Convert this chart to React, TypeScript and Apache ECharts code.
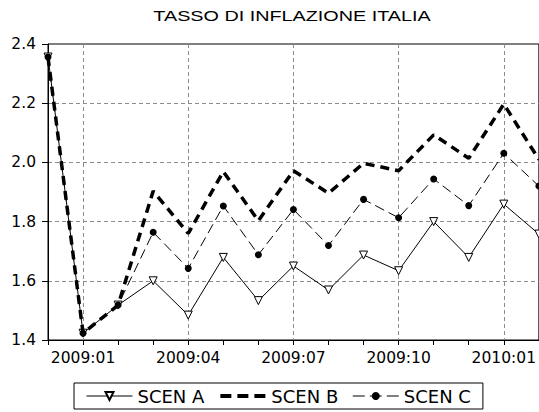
import React, { useEffect, useRef } from "react";
import * as echarts from "echarts";

const months = [
  "2008:12", "2009:01", "2009:02", "2009:03", "2009:04", "2009:05", "2009:06",
  "2009:07", "2009:08", "2009:09", "2009:10", "2009:11", "2009:12", "2010:01", "2010:02",
];
const scenA = [2.356, 1.423, 1.518, 1.600, 1.484, 1.679, 1.533, 1.650, 1.569, 1.687, 1.634, 1.800, 1.679, 1.859, 1.758];
const scenB = [2.356, 1.423, 1.518, 1.903, 1.760, 1.969, 1.803, 1.972, 1.896, 1.997, 1.972, 2.093, 2.014, 2.197, 2.010];
const scenC = [2.356, 1.423, 1.518, 1.764, 1.642, 1.853, 1.688, 1.841, 1.719, 1.875, 1.813, 1.944, 1.854, 2.031, 1.920];
const seriesNames = ["SCEN A", "SCEN B", "SCEN C"];
const titleText = "TASSO DI INFLAZIONE ITALIA";

const FONT = "DejaVu Sans";
const showQuarter = (i: number) => i % 3 === 1;

export default function App() {
  const ref = useRef<HTMLDivElement>(null);
  useEffect(() => {
    document.body.style.margin = "0";
    const chart = echarts.init(ref.current!, null, { renderer: "svg" });
    chart.setOption({
      animation: false,
      backgroundColor: "#fff",
      graphic: [
        {
          type: "text",
          x: 292,
          y: 16,
          scaleX: 1.32,
          style: {
            text: titleText,
            fontFamily: "Liberation Sans",
            fontSize: 15,
            fill: "#000",
            align: "center",
            verticalAlign: "middle",
          },
        },
      ],
      grid: {
        left: 48,
        right: -1,
        top: 44,
        bottom: 72,
        show: true,
        borderColor: "#000",
        borderWidth: 1,
        backgroundColor: "transparent",
      },
      legend: {
        data: [
          {
            name: seriesNames[0],
            lineStyle: { color: "#000", width: 1, type: "solid" },
          },
          {
            name: seriesNames[1],
            itemStyle: { opacity: 0 },
            lineStyle: { color: "#000", width: 4, type: [11, 6], cap: "butt" },
          },
          {
            name: seriesNames[2],
            lineStyle: { color: "#000", width: 1, type: [12, 5] },
          },
        ],
        left: 74,
        top: 383,
        orient: "horizontal",
        padding: [4, 12],
        itemGap: 14,
        itemWidth: 46,
        itemHeight: 10,
        borderColor: "#000",
        borderWidth: 1,
        textStyle: { fontFamily: FONT, fontSize: 18, color: "#000" },
      },
      xAxis: {
        type: "category",
        data: months,
        boundaryGap: false,
        axisLine: { lineStyle: { color: "#000", width: 1 } },
        axisTick: { show: true, interval: 0, length: 5, lineStyle: { color: "#000" } },
        axisLabel: {
          interval: (i: number) => showQuarter(i),
          margin: 10,
          fontFamily: FONT,
          fontSize: 15.5,
          color: "#000",
        },
        splitLine: {
          show: true,
          interval: (i: number) => showQuarter(i),
          lineStyle: { color: "#8c8c8c", type: [4, 3], width: 1 },
        },
      },
      yAxis: {
        type: "value",
        min: 1.4,
        max: 2.4,
        interval: 0.2,
        axisLine: { show: true, lineStyle: { color: "#000", width: 1 } },
        axisTick: { show: true, length: 6, lineStyle: { color: "#000" } },
        axisLabel: {
          margin: 12,
          fontFamily: FONT,
          fontSize: 15.5,
          color: "#000",
          formatter: (v: number) => v.toFixed(1),
        },
        splitLine: {
          show: true,
          showMinLine: false,
          showMaxLine: false,
          lineStyle: { color: "#8c8c8c", type: [4, 3], width: 1 },
        },
      },
      series: [
        {
          name: seriesNames[0],
          type: "line",
          data: scenA,
          symbol: "triangle",
          symbolRotate: 180,
          symbolSize: 8,
          showAllSymbol: true,
          itemStyle: { color: "#fff", borderColor: "#000", borderWidth: 1 },
          lineStyle: { color: "#000", width: 1 },
          z: 2,
        },
        {
          name: seriesNames[1],
          type: "line",
          data: scenB,
          symbol: "none",
          itemStyle: { color: "#000" },
          lineStyle: { color: "#000", width: 3.5, type: [9, 6], cap: "butt" },
          z: 3,
        },
        {
          name: seriesNames[2],
          type: "line",
          data: scenC,
          symbol: "circle",
          symbolSize: 7,
          showAllSymbol: true,
          itemStyle: { color: "#000", borderColor: "#000", borderWidth: 0 },
          lineStyle: { color: "#000", width: 1, type: [10, 5] },
          z: 4,
        },
      ],
    });
    return () => chart.dispose();
  }, []);
  return <div ref={ref} style={{ width: 539, height: 412 }} />;
}
